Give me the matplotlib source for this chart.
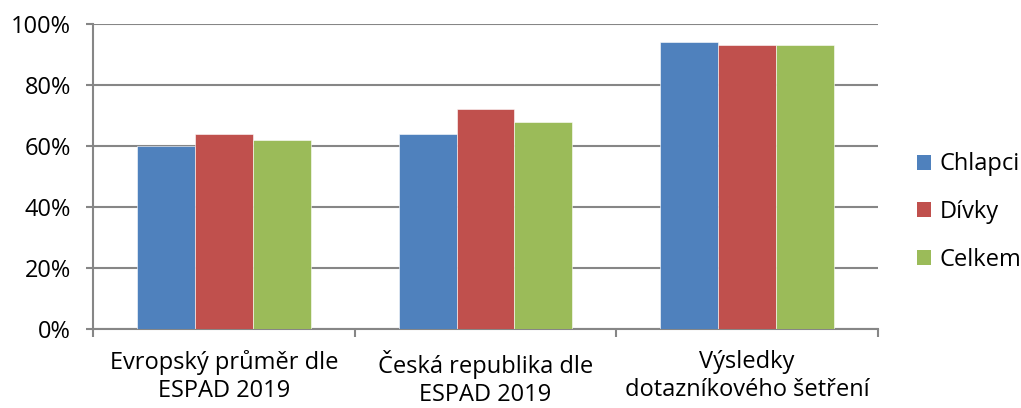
import matplotlib
matplotlib.use("Agg")
import matplotlib.pyplot as plt
from matplotlib.patches import Patch
import numpy as np

categories = ["Evropský průměr dle\nESPAD 2019", "Česká republika dle\nESPAD 2019", "Výsledky\ndotazníkového šetření"]
series_names = ["Chlapci", "Dívky", "Celkem"]
chlapci = [60, 64, 94]
divky = [64, 72, 93]
celkem = [62, 68, 93]
yticks = [0, 20, 40, 60, 80, 100]
ytick_labels = ["0%", "20%", "40%", "60%", "80%", "100%"]
colors = ["#4F81BD", "#C0504D", "#9BBB59"]

plt.rcParams['font.family'] = ['Open Sans', 'DejaVu Sans']
fig = plt.figure(figsize=(10.21, 4.08), dpi=100)
ax = fig.add_axes([93/1021, 1-329/408, (878-93)/1021, (329-24)/408])

x = np.arange(len(categories))
w = 58/262
for i, (vals, c) in enumerate(zip([chlapci, divky, celkem], colors)):
    ax.bar(x + (i-1)*w, vals, width=w, color=c, edgecolor="white", linewidth=0.4, zorder=3)

fs = 17
ax.set_xlim(-0.5, 2.5)
ax.set_ylim(0, 100)
ax.set_yticks(yticks)
ax.set_yticklabels(ytick_labels, fontsize=fs)
ax.yaxis.grid(True, color="#868686", linewidth=1.5, zorder=0)
ax.set_xticks([-0.5, 0.5, 1.5, 2.5])
ax.set_xticklabels([])
ax.set_xticks(x, minor=True)
ax.set_xticklabels(categories, minor=True, fontsize=fs, linespacing=1.25)
ax.tick_params(axis='x', which='minor', length=0, pad=15)
ax.tick_params(axis='x', which='major', length=6, color="#868686", width=1.5)
ax.tick_params(axis='y', length=5, color="#868686", width=1.5, pad=11)
for s in ["top", "right"]:
    ax.spines[s].set_visible(False)
for s in ["left", "bottom"]:
    ax.spines[s].set_color("#868686")
    ax.spines[s].set_linewidth(1.5)

handles = [Patch(facecolor=c, edgecolor="none") for c in colors]
fig.legend(handles, series_names, loc="center left", bbox_to_anchor=(917/1021, 1-212/408),
           frameon=False, fontsize=fs, handlelength=0.6, handleheight=0.6,
           handletextpad=0.35, labelspacing=1.0, borderaxespad=0, borderpad=0)

fig.savefig("out.png", dpi=100)
